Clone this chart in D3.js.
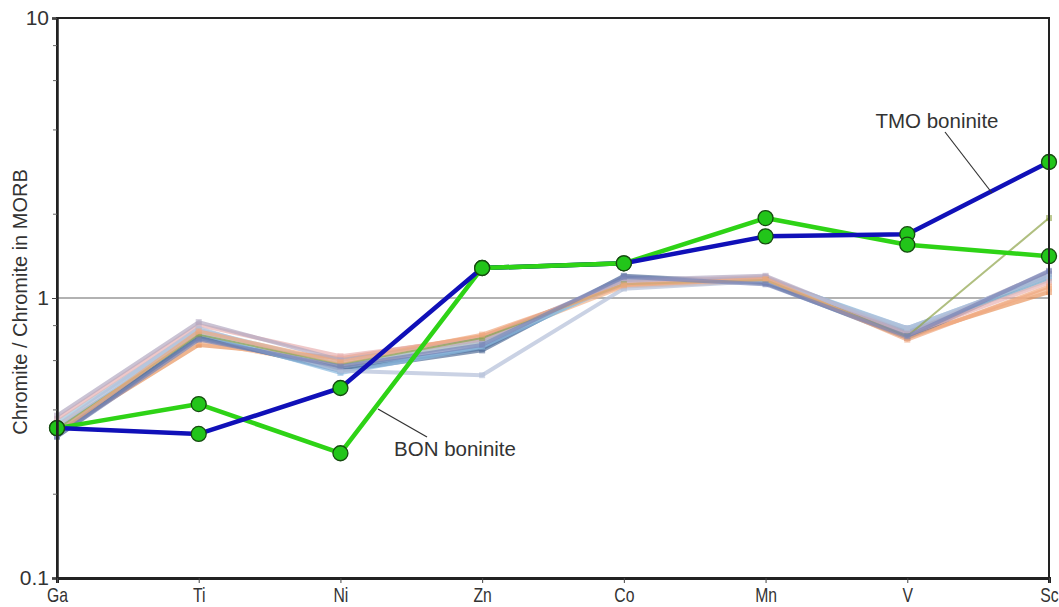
<!DOCTYPE html>
<html>
<head>
<meta charset="utf-8">
<script src="https://cdn.jsdelivr.net/npm/d3@7"></script>
<style>
  body { margin: 0; background: #fff; }
  svg { display: block; }
</style>
</head>
<body>
<div id="chart"></div>
<script>
// elements on the x axis
var elements = ["Ga", "Ti", "Ni", "Zn", "Co", "Mn", "V", "Sc"];

// y tick labels
var majorTicks = [0.1, 1, 10];
var minorTicks = [0.2, 0.4, 0.6, 0.8, 2, 4, 6, 8];

// background chromite samples
var sample1 = [0.33, 0.68, 0.61, 0.73, 1.12, 1.16, 0.73, 1.05];
var sample2 = [0.35, 0.70, 0.57, 0.70, 1.10, 1.15, 0.72, 1.08];
var sample3 = [0.33, 0.72, 0.56, 0.66, 1.18, 1.14, 0.76, 1.18];
var sample4 = [0.32, 0.73, 0.55, 0.65, 1.20, 1.13, 0.72, 1.22];
var sample5 = [0.34, 0.75, 0.54, 0.67, 1.15, 1.17, 0.78, 1.20];
var sample6 = [0.36, 0.77, 0.58, 0.69, 1.13, 1.18, 0.77, 1.16];
var sample7 = [0.37, 0.80, 0.62, 0.72, 1.14, 1.19, 0.74, 1.14];
var sample8 = [0.38, 0.82, 0.60, 0.71, 1.16, 1.20, 0.75, 1.24];
var sample9 = [0.35, 0.78, 0.55, 0.53, 1.08, 1.15, 0.78, 1.20];
var sample10 = [0.34, 0.74, 0.58, 0.72, 1.12, 1.16, 0.73, 1.93];
var sample11 = [0.33, 0.76, 0.59, 0.74, 1.11, 1.17, 0.71, 1.10];
var sample12 = [0.32, 0.71, 0.57, 0.68, 1.19, 1.12, 0.73, 1.25];

var samples = [sample1, sample2, sample3, sample4, sample5, sample6,
               sample7, sample8, sample9, sample10, sample11, sample12];
var sampleColors = ["#e8955f", "#f2b48c", "#4f7fb0", "#56709a", "#8cbbe0", "#9fc6dc",
                    "#e8b0b0", "#b3a9c2", "#b4bfd8", "#8fa44a", "#f0a880", "#7a86b8"];

// the two boninites
var tmo = [0.343, 0.327, 0.477, 1.28, 1.33, 1.66, 1.69, 3.06];
var bon = [0.343, 0.418, 0.279, 1.28, 1.33, 1.93, 1.55, 1.41];

var width = 1059, height = 607;
var mLeft = 57, mRight = 1049, mTop = 18, mBottom = 578;

var svg = d3.select("#chart")
  .append("svg")
    .attr("width", width)
    .attr("height", height);

var x = d3.scalePoint()
  .domain(elements)
  .range([mLeft, mRight]);

var y = d3.scaleLog()
  .domain([0.1, 10])
  .range([mBottom, mTop]);

// reference line at 1
svg.append("line")
  .attr("x1", mLeft).attr("x2", mRight)
  .attr("y1", y(1)).attr("y2", y(1))
  .attr("stroke", "#999").attr("stroke-width", 1.3);

var line = d3.line()
  .x(function(d, i) { return x(elements[i]); })
  .y(function(d) { return y(d); });

// background samples
var bg = svg.append("g");
samples.forEach(function(s, k) {
  bg.append("path")
    .datum(s)
    .attr("d", line)
    .attr("fill", "none")
    .attr("stroke", sampleColors[k])
    .attr("stroke-width", k == 9 ? 2 : 4)
    .attr("stroke-opacity", 0.7)
    .attr("stroke-linejoin", "round");
  bg.selectAll(null)
    .data(s)
    .enter()
    .append("rect")
      .attr("x", function(d, i) { return x(elements[i]) - 3; })
      .attr("y", function(d) { return y(d) - 3; })
      .attr("width", 6).attr("height", 6)
      .attr("fill", sampleColors[k])
      .attr("opacity", 0.6);
});

// boninites
svg.append("path")
  .datum(bon)
  .attr("d", line)
  .attr("fill", "none")
  .attr("stroke", "#2ed316")
  .attr("stroke-width", 4.5)
  .attr("stroke-linejoin", "round");

svg.append("path")
  .datum(tmo)
  .attr("d", line)
  .attr("fill", "none")
  .attr("stroke", "#1010b8")
  .attr("stroke-width", 4.5)
  .attr("stroke-linejoin", "round");

// green line drawn again over the blue where they share Zn-Co
svg.append("path")
  .datum(bon.slice(3, 5))
  .attr("d", d3.line()
    .x(function(d, i) { return x(elements[i + 3]); })
    .y(function(d) { return y(d); }))
  .attr("fill", "none")
  .attr("stroke", "#2ed316")
  .attr("stroke-width", 4.5);

[tmo, bon].forEach(function(s) {
  svg.append("g")
    .selectAll("circle")
    .data(s)
    .enter()
    .append("circle")
      .attr("cx", function(d, i) { return x(elements[i]); })
      .attr("cy", function(d) { return y(d); })
      .attr("r", 7.5)
      .attr("fill", "#22c51a")
      .attr("stroke", "#164a10")
      .attr("stroke-width", 1.3);
});

// frame
svg.append("rect")
  .attr("x", mLeft).attr("y", mTop)
  .attr("width", mRight - mLeft).attr("height", mBottom - mTop)
  .attr("fill", "none")
  .attr("stroke", "#222")
  .attr("stroke-width", 2);

// y axis
var yAxis = svg.append("g")
  .attr("transform", "translate(" + mLeft + ",0)")
  .call(d3.axisLeft(y)
    .tickValues(majorTicks)
    .tickFormat(function(d) { return d; })
    .tickSize(5)
    .tickPadding(3));
yAxis.select(".domain").attr("stroke", "#222").attr("stroke-width", 2.5);
yAxis.selectAll("text")
  .attr("font-family", "Liberation Sans, Arial, sans-serif")
  .attr("font-size", 21)
  .attr("fill", "#333");
yAxis.selectAll(".tick line").attr("stroke", "#444");

svg.append("g")
  .attr("transform", "translate(" + mLeft + ",0)")
  .call(d3.axisLeft(y).tickValues(minorTicks).tickSize(4).tickFormat(""))
  .call(function(g) { g.select(".domain").remove(); })
  .selectAll("line").attr("stroke", "#666");

// x axis (condensed labels)
var xAxis = svg.append("g")
  .attr("transform", "translate(0," + mBottom + ")")
  .call(d3.axisBottom(x).tickSize(5).tickPadding(4));
xAxis.select(".domain").attr("stroke", "#222").attr("stroke-width", 3);
xAxis.selectAll(".tick line").attr("stroke", "#444");
xAxis.selectAll("text")
  .attr("font-family", "Liberation Sans, Arial, sans-serif")
  .attr("font-size", 21)
  .attr("transform", "scale(0.75,1)")
  .attr("fill", "#333");

// y title
svg.append("text")
  .attr("transform", "translate(27,302) rotate(-90)")
  .attr("text-anchor", "middle")
  .attr("font-family", "Liberation Sans, Arial, sans-serif")
  .attr("font-size", 20)
  .attr("fill", "#333")
  .text("Chromite / Chromite in MORB");

// annotations
svg.append("line")
  .attr("x1", 945).attr("y1", 132).attr("x2", 992).attr("y2", 193)
  .attr("stroke", "#333").attr("stroke-width", 1.2);
svg.append("text")
  .attr("x", 937).attr("y", 128)
  .attr("text-anchor", "middle")
  .attr("font-family", "Liberation Sans, Arial, sans-serif")
  .attr("font-size", 20.5)
  .attr("fill", "#333")
  .text("TMO boninite");

svg.append("line")
  .attr("x1", 378).attr("y1", 409).attr("x2", 427).attr("y2", 437)
  .attr("stroke", "#333").attr("stroke-width", 1.2);
svg.append("text")
  .attr("x", 455).attr("y", 456)
  .attr("text-anchor", "middle")
  .attr("font-family", "Liberation Sans, Arial, sans-serif")
  .attr("font-size", 20.5)
  .attr("fill", "#333")
  .text("BON boninite");
</script>
</body>
</html>
